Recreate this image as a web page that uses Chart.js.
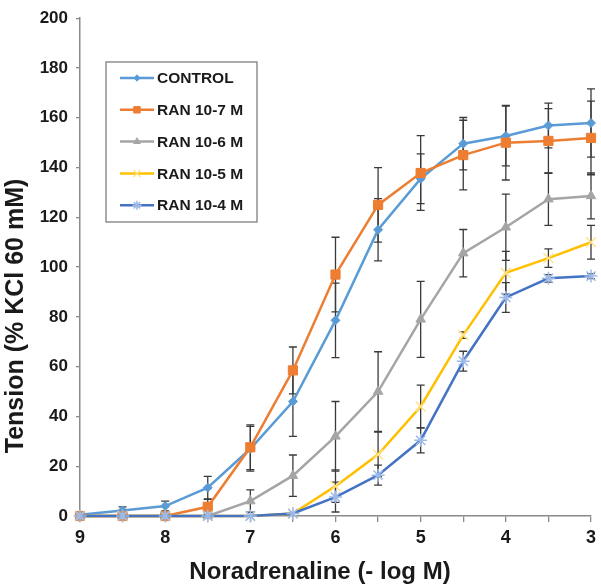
<!DOCTYPE html>
<html>
<head>
<meta charset="utf-8">
<script src="https://cdn.jsdelivr.net/npm/chart.js@4.4.1/dist/chart.umd.min.js"></script>
<style>
  html, body { margin: 0; padding: 0; background: #ffffff; }
  #wrap { width: 601px; height: 588px; position: relative; }
</style>
</head>
<body>
<div id="wrap"><canvas id="c" width="601" height="588"></canvas></div>
<script>
// ---- data ----
const doses = [9, 8.5, 8, 7.5, 7, 6.5, 6, 5.5, 5, 4.5, 4, 3.5, 3];
const seriesNames = ['CONTROL', 'RAN 10-7 M', 'RAN 10-6 M', 'RAN 10-5 M', 'RAN 10-4 M'];

const control   = [0.5, 2.2, 4, 11.4, 27, 46, 78.6, 115, 135.5, 149.6, 152.7, 156.9, 157.9];
const ran107    = [0, 0, 0, 3.7, 27.6, 58.5, 97, 125, 137.8, 145, 150, 150.7, 151.9];
const ran106    = [0, 0, 0, 0, 6, 16.2, 32, 50, 79, 105.6, 116, 127.3, 128.6];
const ran105    = [0, 0, 0, 0, 0, 1, 12, 24.7, 44, 72.7, 97.7, 103.6, 110];
const ran104    = [0, 0, 0, 0, 0, 1, 7.6, 16.4, 30.4, 62.2, 87.8, 95.5, 96.4];

const controlErr = [0, 1.5, 2, 4.5, 9, 14, 15, 12.5, 10, 10.5, 12, 9, 13.7];
const ran107Err  = [0, 0, 0, 3, 9, 9.4, 15, 15, 15, 14, 15, 13, 14.8];
const ran106Err  = [0, 0, 0, 0, 4.5, 8.3, 14, 16, 15.3, 9.5, 13.3, 10.5, 9.2];
const ran105Err  = [0, 0, 0, 0, 0, 0, 6.5, 9, 8.6, 1.3, 8.6, 3.7, 6.8];
const ran104Err  = [0, 0, 0, 0, 0, 0, 6, 4, 5, 4, 6, 1.5, 1];

const xMajorTicks = [9, 8, 7, 6, 5, 4, 3];
const yTicks = [0, 20, 40, 60, 80, 100, 120, 140, 160, 180, 200];

const xTitle = 'Noradrenaline (- log M)';
const yTitle = 'Tension (% KCl 60 mM)';

// ---- styles ----
const FONT = '"Liberation Sans", Arial, sans-serif';
const styles = [
  { line: '#5B9BD5', mark: '#5B9BD5', fill: '#5B9BD5', style: 'rectRot', r: 4.5, mw: 1 },
  { line: '#ED7D31', mark: '#ED7D31', fill: '#ED7D31', style: 'rect', r: 6.5, mw: 1 },
  { line: '#A5A5A5', mark: '#A5A5A5', fill: '#A5A5A5', style: 'triangle', r: 5.5, mw: 1 },
  { line: '#FFC000', mark: '#FFE38A', fill: 'rgba(0,0,0,0)', style: 'crossRot', r: 7, mw: 1.5 },
  { line: '#4472C4', mark: '#9DB9E8', fill: 'rgba(0,0,0,0)', style: 'star', r: 6.5, mw: 1.5 }
];
const values = [control, ran107, ran106, ran105, ran104];
const errors = [controlErr, ran107Err, ran106Err, ran105Err, ran104Err];

const datasets = values.map((vals, i) => ({
  label: seriesNames[i],
  data: doses.map((d, k) => ({ x: d, y: vals[k] })),
  errors: errors[i],
  borderColor: styles[i].line,
  backgroundColor: styles[i].fill,
  borderWidth: 2.5,
  pointStyle: styles[i].style,
  pointRadius: styles[i].r,
  pointBackgroundColor: styles[i].fill,
  pointBorderColor: styles[i].mark,
  pointBorderWidth: styles[i].mw,
  tension: 0,
  clip: false,
  order: values.length - i
}));

const errorBarPlugin = {
  id: 'errorBars',
  beforeDatasetsDraw(chart) {
    const ctx = chart.ctx;
    const ys = chart.scales.y;
    ctx.save();
    ctx.strokeStyle = '#3a3a3a';
    ctx.lineWidth = 1.3;
    chart.data.datasets.forEach((ds, i) => {
      const meta = chart.getDatasetMeta(i);
      meta.data.forEach((pt, k) => {
        const e = ds.errors[k];
        if (!e) return;
        const v = ds.data[k].y;
        const top = ys.getPixelForValue(v + e);
        const bot = ys.getPixelForValue(Math.max(0, v - e));
        const x = pt.x;
        ctx.beginPath();
        ctx.moveTo(x, top); ctx.lineTo(x, bot);
        ctx.moveTo(x - 4, top); ctx.lineTo(x + 4, top);
        if (v - e > 0) { ctx.moveTo(x - 4, bot); ctx.lineTo(x + 4, bot); }
        ctx.stroke();
      });
    });
    ctx.restore();
  }
};

const decorPlugin = {
  id: 'decor',
  afterDraw(chart) {
    const ctx = chart.ctx;
    ctx.save();
    // axis titles
    ctx.fillStyle = '#1a1a1a';
    ctx.font = 'bold 24px ' + FONT;
    ctx.textAlign = 'center';
    ctx.textBaseline = 'middle';
    ctx.fillText(xTitle, 320, 572);
    ctx.save();
    ctx.translate(16, 316);
    ctx.rotate(-Math.PI / 2);
    ctx.font = 'bold 25px ' + FONT;
    ctx.fillText(yTitle, 0, 0);
    ctx.restore();

    // legend box
    const bx = 106, by = 62, bw = 151, bh = 160;
    ctx.strokeStyle = '#7f7f7f';
    ctx.lineWidth = 1.3;
    ctx.strokeRect(bx, by, bw, bh);
    ctx.font = 'bold 15.5px ' + FONT;
    ctx.textAlign = 'left';
    chart.data.datasets.forEach((ds, i) => {
      const yy = by + 16 + i * 31.8;
      ctx.strokeStyle = ds.borderColor;
      ctx.lineWidth = 2.5;
      ctx.beginPath();
      ctx.moveTo(120, yy); ctx.lineTo(154, yy);
      ctx.stroke();
      ctx.fillStyle = ds.pointBackgroundColor;
      ctx.strokeStyle = ds.pointBorderColor;
      ctx.lineWidth = ds.pointBorderWidth;
      Chart.helpers.drawPoint(ctx, { pointStyle: ds.pointStyle, radius: ds.pointRadius * 0.7, rotation: 0, borderWidth: ds.pointBorderWidth }, 137, yy);
      ctx.fillStyle = '#1a1a1a';
      ctx.fillText(ds.label, 157, yy + 1);
    });
    ctx.restore();
  }
};

new Chart(document.getElementById('c'), {
  type: 'line',
  data: { datasets },
  options: {
    responsive: false,
    animation: false,
    layout: { padding: { left: 0, right: 8, top: 9, bottom: 0 } },
    plugins: { legend: { display: false }, tooltip: { enabled: false } },
    scales: {
      x: {
        type: 'linear',
        reverse: true,
        min: 3, max: 9,
        afterBuildTicks(scale) {
          scale.ticks = doses.map(d => ({ value: d }));
        },
        afterFit(scale) { scale.height = 72; },
        ticks: {
          autoSkip: false,
          maxRotation: 0,
          padding: 5,
          color: '#1a1a1a',
          font: { family: FONT, size: 18, weight: 'bold' },
          callback: (v) => xMajorTicks.includes(v) ? String(v) : ''
        },
        grid: { drawOnChartArea: false, drawTicks: true, tickLength: 6, color: '#8a8a8a', lineWidth: 1.3 },
        border: { color: '#8a8a8a', width: 1.5 },
        title: { display: false }
      },
      y: {
        min: 0, max: 200,
        afterBuildTicks(scale) { scale.ticks = yTicks.map(v => ({ value: v })); },
        afterFit(scale) { scale.width = 80; },
        ticks: {
          padding: 8,
          color: '#1a1a1a',
          font: { family: FONT, size: 17, weight: 'bold' }
        },
        grid: { drawOnChartArea: false, drawTicks: true, tickLength: 4, color: '#8a8a8a', lineWidth: 1.3 },
        border: { color: '#8a8a8a', width: 1.5 },
        title: { display: false }
      }
    }
  },
  plugins: [errorBarPlugin, decorPlugin]
});
</script>
</body>
</html>
